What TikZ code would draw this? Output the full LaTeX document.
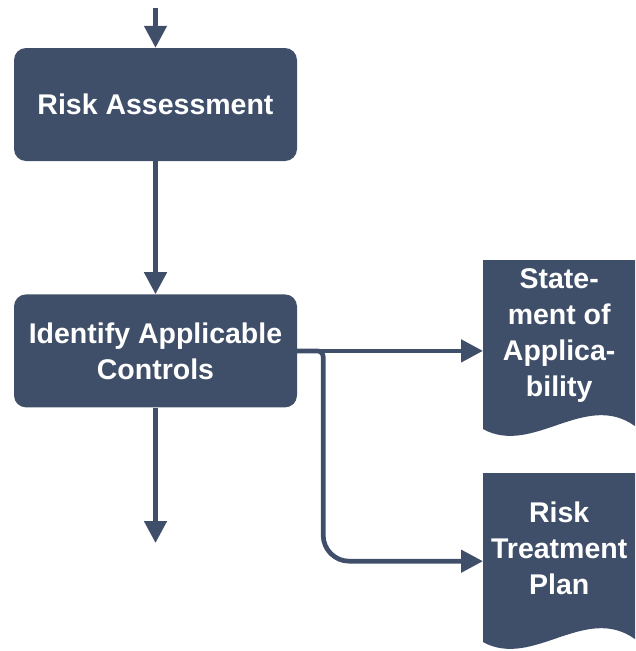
\documentclass[tikz,border=0pt]{standalone}
\usepackage{fontspec}
\setmainfont{Liberation Sans}
\usepackage{tikz}
\usetikzlibrary{shapes,arrows.meta,positioning}
\definecolor{slate}{RGB}{64,79,105}
\tikzset{>={Triangle[width=22pt,length=22pt]}}
\tikzstyle{process} = [fill=slate, rounded corners=12pt, minimum width=283pt,
    minimum height=113pt, text=white, align=center,
    font=\bfseries\fontsize{28.5}{36}\selectfont]
\tikzstyle{docu} = [minimum width=152pt, minimum height=176pt, inner sep=0pt,
    path picture={\fill[slate] (path picture bounding box.north west)
      -- (path picture bounding box.north east)
      -- ([yshift=10pt]path picture bounding box.south east)
      .. controls ([xshift=-50pt,yshift=46pt]path picture bounding box.south east)
      and ([xshift=50pt,yshift=-20pt]path picture bounding box.south west)
      .. ([yshift=7pt]path picture bounding box.south west) -- cycle;}]
\tikzstyle{doctext} = [text=white, align=center, yshift=13pt,
    font=\bfseries\fontsize{28.5}{36}\selectfont]
\tikzstyle{flow} = [->, draw=slate, line width=4.7pt]

\begin{document}
\begin{tikzpicture}[x=1pt,y=1pt]
    \useasboundingbox (0,0) rectangle (635,-651);
    \node [process] (assess) at (155.5,-104.5) {Risk Assessment};
    \node [process,below=133pt of assess] (identify) {Identify Applicable\\Controls};
    \node [docu,anchor=north west,label={[doctext]center:{State-\\ment of\\Applica-\\bility}}] (soa) at (483,-260) {};
    \node [docu,anchor=north west,label={[doctext]center:{Risk\\Treatment\\Plan}}] (rtp) at (483,-473) {};
    \coordinate (start) at (155.5,-8);
    \coordinate (next) at (155.5,-543);
    \draw [flow] (start)--(assess);
    \draw [flow] (assess)--(identify);
    \draw [flow] (identify)--(next);
    \draw [flow] (identify.east)--(identify.east -| soa.west);
    \draw [flow] (identify.east) [rounded corners=6pt] -- ++(26,0) [rounded corners=26pt] |- (rtp.west);
\end{tikzpicture}
\end{document}
